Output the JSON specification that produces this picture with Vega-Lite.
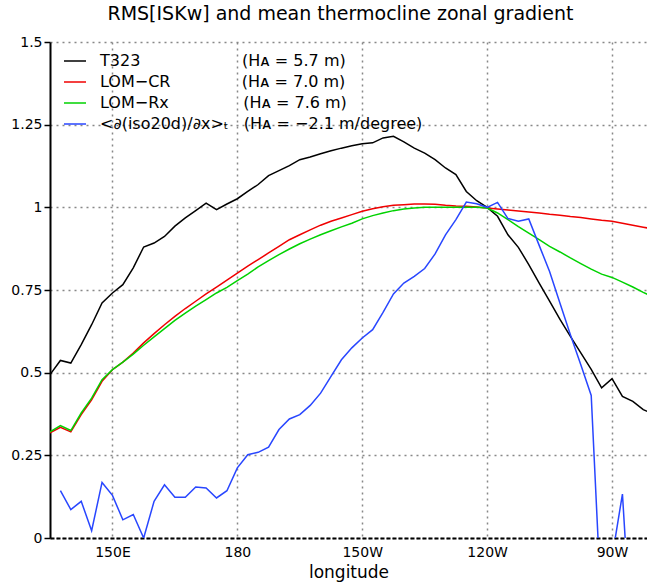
{
 "$schema": "https://vega.github.io/schema/vega-lite/v6.json",
 "autosize": "none",
 "width": 597,
 "height": 496,
 "padding": {"left": 50, "top": 42, "right": 0, "bottom": 44},
 "background": "white",
 "title": {"text": "RMS[ISKw] and mean thermocline zonal gradient", "font": "DejaVu Sans", "fontSize": 19, "fontWeight": "normal", "color": "black", "anchor": "middle", "dx": -8, "offset": -4, "baseline": "alphabetic"},
 "config": {"view": {"stroke": null}},
 "datasets": {
  "curves": [
   {"series": "T323", "lon": 135, "v": 0.494}, {"series": "T323", "lon": 137.5, "v": 0.537}, {"series": "T323", "lon": 140, "v": 0.529}, {"series": "T323", "lon": 142.5, "v": 0.585}, {"series": "T323", "lon": 145, "v": 0.645}, {"series": "T323", "lon": 147.5, "v": 0.711}, {"series": "T323", "lon": 150, "v": 0.741}, {"series": "T323", "lon": 152.5, "v": 0.766}, {"series": "T323", "lon": 155, "v": 0.817}, {"series": "T323", "lon": 157.5, "v": 0.880}, {"series": "T323", "lon": 160, "v": 0.892}, {"series": "T323", "lon": 162.5, "v": 0.912}, {"series": "T323", "lon": 165, "v": 0.943}, {"series": "T323", "lon": 167.5, "v": 0.968}, {"series": "T323", "lon": 170, "v": 0.990}, {"series": "T323", "lon": 172.5, "v": 1.013}, {"series": "T323", "lon": 175, "v": 0.993}, {"series": "T323", "lon": 177.5, "v": 1.010}, {"series": "T323", "lon": 180, "v": 1.026}, {"series": "T323", "lon": 182.5, "v": 1.048}, {"series": "T323", "lon": 185, "v": 1.069}, {"series": "T323", "lon": 187.5, "v": 1.096}, {"series": "T323", "lon": 190, "v": 1.111}, {"series": "T323", "lon": 192.5, "v": 1.126}, {"series": "T323", "lon": 195, "v": 1.144}, {"series": "T323", "lon": 197.5, "v": 1.152}, {"series": "T323", "lon": 200, "v": 1.162}, {"series": "T323", "lon": 202.5, "v": 1.171}, {"series": "T323", "lon": 205, "v": 1.179}, {"series": "T323", "lon": 207.5, "v": 1.186}, {"series": "T323", "lon": 210, "v": 1.192}, {"series": "T323", "lon": 212.5, "v": 1.195}, {"series": "T323", "lon": 215, "v": 1.210}, {"series": "T323", "lon": 217.5, "v": 1.215}, {"series": "T323", "lon": 220, "v": 1.198}, {"series": "T323", "lon": 222.5, "v": 1.179}, {"series": "T323", "lon": 225, "v": 1.164}, {"series": "T323", "lon": 227.5, "v": 1.144}, {"series": "T323", "lon": 230, "v": 1.119}, {"series": "T323", "lon": 232.5, "v": 1.099}, {"series": "T323", "lon": 235, "v": 1.048}, {"series": "T323", "lon": 237.5, "v": 1.020}, {"series": "T323", "lon": 240, "v": 1.000}, {"series": "T323", "lon": 242.5, "v": 0.973}, {"series": "T323", "lon": 245, "v": 0.917}, {"series": "T323", "lon": 247.5, "v": 0.879}, {"series": "T323", "lon": 250, "v": 0.827}, {"series": "T323", "lon": 252.5, "v": 0.771}, {"series": "T323", "lon": 255, "v": 0.716}, {"series": "T323", "lon": 257.5, "v": 0.661}, {"series": "T323", "lon": 260, "v": 0.610}, {"series": "T323", "lon": 262.5, "v": 0.560}, {"series": "T323", "lon": 265, "v": 0.510}, {"series": "T323", "lon": 267.5, "v": 0.454}, {"series": "T323", "lon": 270, "v": 0.482}, {"series": "T323", "lon": 272.5, "v": 0.428}, {"series": "T323", "lon": 275, "v": 0.413}, {"series": "T323", "lon": 277.5, "v": 0.388}, {"series": "T323", "lon": 280, "v": 0.375},
   {"series": "LOM-CR", "lon": 135, "v": 0.318}, {"series": "LOM-CR", "lon": 137.5, "v": 0.335}, {"series": "LOM-CR", "lon": 140, "v": 0.321}, {"series": "LOM-CR", "lon": 142.5, "v": 0.373}, {"series": "LOM-CR", "lon": 145, "v": 0.418}, {"series": "LOM-CR", "lon": 147.5, "v": 0.474}, {"series": "LOM-CR", "lon": 150, "v": 0.509}, {"series": "LOM-CR", "lon": 152.5, "v": 0.532}, {"series": "LOM-CR", "lon": 155, "v": 0.559}, {"series": "LOM-CR", "lon": 157.5, "v": 0.590}, {"series": "LOM-CR", "lon": 160, "v": 0.618}, {"series": "LOM-CR", "lon": 162.5, "v": 0.645}, {"series": "LOM-CR", "lon": 165, "v": 0.670}, {"series": "LOM-CR", "lon": 167.5, "v": 0.694}, {"series": "LOM-CR", "lon": 170, "v": 0.716}, {"series": "LOM-CR", "lon": 172.5, "v": 0.738}, {"series": "LOM-CR", "lon": 175, "v": 0.759}, {"series": "LOM-CR", "lon": 177.5, "v": 0.780}, {"series": "LOM-CR", "lon": 180, "v": 0.801}, {"series": "LOM-CR", "lon": 182.5, "v": 0.822}, {"series": "LOM-CR", "lon": 185, "v": 0.842}, {"series": "LOM-CR", "lon": 187.5, "v": 0.862}, {"series": "LOM-CR", "lon": 190, "v": 0.882}, {"series": "LOM-CR", "lon": 192.5, "v": 0.902}, {"series": "LOM-CR", "lon": 195, "v": 0.917}, {"series": "LOM-CR", "lon": 197.5, "v": 0.932}, {"series": "LOM-CR", "lon": 200, "v": 0.946}, {"series": "LOM-CR", "lon": 202.5, "v": 0.958}, {"series": "LOM-CR", "lon": 205, "v": 0.968}, {"series": "LOM-CR", "lon": 207.5, "v": 0.978}, {"series": "LOM-CR", "lon": 210, "v": 0.988}, {"series": "LOM-CR", "lon": 212.5, "v": 0.996}, {"series": "LOM-CR", "lon": 215, "v": 1.002}, {"series": "LOM-CR", "lon": 217.5, "v": 1.006}, {"series": "LOM-CR", "lon": 220, "v": 1.008}, {"series": "LOM-CR", "lon": 222.5, "v": 1.010}, {"series": "LOM-CR", "lon": 225, "v": 1.010}, {"series": "LOM-CR", "lon": 227.5, "v": 1.009}, {"series": "LOM-CR", "lon": 230, "v": 1.006}, {"series": "LOM-CR", "lon": 232.5, "v": 1.004}, {"series": "LOM-CR", "lon": 235, "v": 1.003}, {"series": "LOM-CR", "lon": 237.5, "v": 1.001}, {"series": "LOM-CR", "lon": 240, "v": 0.998}, {"series": "LOM-CR", "lon": 242.5, "v": 0.995}, {"series": "LOM-CR", "lon": 245, "v": 0.992}, {"series": "LOM-CR", "lon": 247.5, "v": 0.989}, {"series": "LOM-CR", "lon": 250, "v": 0.986}, {"series": "LOM-CR", "lon": 252.5, "v": 0.983}, {"series": "LOM-CR", "lon": 255, "v": 0.979}, {"series": "LOM-CR", "lon": 257.5, "v": 0.976}, {"series": "LOM-CR", "lon": 260, "v": 0.972}, {"series": "LOM-CR", "lon": 262.5, "v": 0.969}, {"series": "LOM-CR", "lon": 265, "v": 0.965}, {"series": "LOM-CR", "lon": 267.5, "v": 0.961}, {"series": "LOM-CR", "lon": 270, "v": 0.958}, {"series": "LOM-CR", "lon": 272.5, "v": 0.952}, {"series": "LOM-CR", "lon": 275, "v": 0.946}, {"series": "LOM-CR", "lon": 277.5, "v": 0.940}, {"series": "LOM-CR", "lon": 280, "v": 0.934},
   {"series": "LOM-Rx", "lon": 135, "v": 0.321}, {"series": "LOM-Rx", "lon": 137.5, "v": 0.340}, {"series": "LOM-Rx", "lon": 140, "v": 0.325}, {"series": "LOM-Rx", "lon": 142.5, "v": 0.378}, {"series": "LOM-Rx", "lon": 145, "v": 0.423}, {"series": "LOM-Rx", "lon": 147.5, "v": 0.479}, {"series": "LOM-Rx", "lon": 150, "v": 0.509}, {"series": "LOM-Rx", "lon": 152.5, "v": 0.532}, {"series": "LOM-Rx", "lon": 155, "v": 0.556}, {"series": "LOM-Rx", "lon": 157.5, "v": 0.583}, {"series": "LOM-Rx", "lon": 160, "v": 0.608}, {"series": "LOM-Rx", "lon": 162.5, "v": 0.633}, {"series": "LOM-Rx", "lon": 165, "v": 0.658}, {"series": "LOM-Rx", "lon": 167.5, "v": 0.680}, {"series": "LOM-Rx", "lon": 170, "v": 0.701}, {"series": "LOM-Rx", "lon": 172.5, "v": 0.721}, {"series": "LOM-Rx", "lon": 175, "v": 0.741}, {"series": "LOM-Rx", "lon": 177.5, "v": 0.758}, {"series": "LOM-Rx", "lon": 180, "v": 0.778}, {"series": "LOM-Rx", "lon": 182.5, "v": 0.798}, {"series": "LOM-Rx", "lon": 185, "v": 0.820}, {"series": "LOM-Rx", "lon": 187.5, "v": 0.839}, {"series": "LOM-Rx", "lon": 190, "v": 0.857}, {"series": "LOM-Rx", "lon": 192.5, "v": 0.874}, {"series": "LOM-Rx", "lon": 195, "v": 0.890}, {"series": "LOM-Rx", "lon": 197.5, "v": 0.904}, {"series": "LOM-Rx", "lon": 200, "v": 0.917}, {"series": "LOM-Rx", "lon": 202.5, "v": 0.929}, {"series": "LOM-Rx", "lon": 205, "v": 0.941}, {"series": "LOM-Rx", "lon": 207.5, "v": 0.952}, {"series": "LOM-Rx", "lon": 210, "v": 0.965}, {"series": "LOM-Rx", "lon": 212.5, "v": 0.975}, {"series": "LOM-Rx", "lon": 215, "v": 0.983}, {"series": "LOM-Rx", "lon": 217.5, "v": 0.990}, {"series": "LOM-Rx", "lon": 220, "v": 0.995}, {"series": "LOM-Rx", "lon": 222.5, "v": 0.998}, {"series": "LOM-Rx", "lon": 225, "v": 1.000}, {"series": "LOM-Rx", "lon": 227.5, "v": 1.000}, {"series": "LOM-Rx", "lon": 230, "v": 1.000}, {"series": "LOM-Rx", "lon": 232.5, "v": 1.000}, {"series": "LOM-Rx", "lon": 235, "v": 1.000}, {"series": "LOM-Rx", "lon": 237.5, "v": 1.000}, {"series": "LOM-Rx", "lon": 240, "v": 0.998}, {"series": "LOM-Rx", "lon": 242.5, "v": 0.983}, {"series": "LOM-Rx", "lon": 245, "v": 0.963}, {"series": "LOM-Rx", "lon": 247.5, "v": 0.942}, {"series": "LOM-Rx", "lon": 250, "v": 0.922}, {"series": "LOM-Rx", "lon": 252.5, "v": 0.902}, {"series": "LOM-Rx", "lon": 255, "v": 0.882}, {"series": "LOM-Rx", "lon": 257.5, "v": 0.865}, {"series": "LOM-Rx", "lon": 260, "v": 0.847}, {"series": "LOM-Rx", "lon": 262.5, "v": 0.830}, {"series": "LOM-Rx", "lon": 265, "v": 0.813}, {"series": "LOM-Rx", "lon": 267.5, "v": 0.798}, {"series": "LOM-Rx", "lon": 270, "v": 0.788}, {"series": "LOM-Rx", "lon": 272.5, "v": 0.774}, {"series": "LOM-Rx", "lon": 275, "v": 0.759}, {"series": "LOM-Rx", "lon": 277.5, "v": 0.743}, {"series": "LOM-Rx", "lon": 280, "v": 0.728},
   {"series": "grad", "lon": 137.5, "v": 0.143}, {"series": "grad", "lon": 140, "v": 0.086}, {"series": "grad", "lon": 142.5, "v": 0.111}, {"series": "grad", "lon": 145, "v": 0.022}, {"series": "grad", "lon": 147.5, "v": 0.168}, {"series": "grad", "lon": 150, "v": 0.129}, {"series": "grad", "lon": 152.5, "v": 0.055}, {"series": "grad", "lon": 155, "v": 0.071}, {"series": "grad", "lon": 157.5, "v": 0.0}, {"series": "grad", "lon": 160, "v": 0.111}, {"series": "grad", "lon": 162.5, "v": 0.161}, {"series": "grad", "lon": 165, "v": 0.123}, {"series": "grad", "lon": 167.5, "v": 0.123}, {"series": "grad", "lon": 170, "v": 0.154}, {"series": "grad", "lon": 172.5, "v": 0.151}, {"series": "grad", "lon": 175, "v": 0.121}, {"series": "grad", "lon": 177.5, "v": 0.143}, {"series": "grad", "lon": 180, "v": 0.212}, {"series": "grad", "lon": 182.5, "v": 0.252}, {"series": "grad", "lon": 185, "v": 0.259}, {"series": "grad", "lon": 187.5, "v": 0.275}, {"series": "grad", "lon": 190, "v": 0.328}, {"series": "grad", "lon": 192.5, "v": 0.360}, {"series": "grad", "lon": 195, "v": 0.373}, {"series": "grad", "lon": 197.5, "v": 0.401}, {"series": "grad", "lon": 200, "v": 0.438}, {"series": "grad", "lon": 202.5, "v": 0.489}, {"series": "grad", "lon": 205, "v": 0.539}, {"series": "grad", "lon": 207.5, "v": 0.575}, {"series": "grad", "lon": 210, "v": 0.605}, {"series": "grad", "lon": 212.5, "v": 0.630}, {"series": "grad", "lon": 215, "v": 0.682}, {"series": "grad", "lon": 217.5, "v": 0.738}, {"series": "grad", "lon": 220, "v": 0.771}, {"series": "grad", "lon": 222.5, "v": 0.791}, {"series": "grad", "lon": 225, "v": 0.815}, {"series": "grad", "lon": 227.5, "v": 0.859}, {"series": "grad", "lon": 230, "v": 0.917}, {"series": "grad", "lon": 232.5, "v": 0.963}, {"series": "grad", "lon": 235, "v": 1.016}, {"series": "grad", "lon": 237.5, "v": 1.011}, {"series": "grad", "lon": 240, "v": 1.000}, {"series": "grad", "lon": 242.5, "v": 1.015}, {"series": "grad", "lon": 245, "v": 0.966}, {"series": "grad", "lon": 247.5, "v": 0.958}, {"series": "grad", "lon": 250, "v": 0.965}, {"series": "grad", "lon": 252.5, "v": 0.885}, {"series": "grad", "lon": 255, "v": 0.806}, {"series": "grad", "lon": 257.5, "v": 0.710}, {"series": "grad", "lon": 260, "v": 0.615}, {"series": "grad", "lon": 262.5, "v": 0.524}, {"series": "grad", "lon": 265, "v": 0.431}, {"series": "grad", "lon": 267.5, "v": -0.23}, {"series": "grad", "lon": 270, "v": -0.06}, {"series": "grad", "lon": 272.5, "v": 0.133}, {"series": "grad", "lon": 275, "v": -0.38}, {"series": "grad", "lon": 277.5, "v": -0.6}, {"series": "grad", "lon": 280, "v": -0.6}
  ]
 },
 "layer": [
  {
   "data": {"name": "curves"},
   "mark": {"type": "line", "clip": true, "strokeWidth": 1.5},
   "encoding": {
    "x": {"field": "lon", "type": "quantitative", "scale": {"domain": [135, 278.4], "nice": false, "zero": false},
     "axis": {"values": [150, 180, 210, 240, 270], "labelExpr": "datum.value < 180 ? datum.value + 'E' : (datum.value == 180 ? '180' : (360 - datum.value) + 'W')", "title": "longitude", "titleFont": "DejaVu Sans", "titleFontSize": 17, "titleFontWeight": "normal", "titleColor": "black", "titlePadding": 5, "labelFont": "DejaVu Sans", "labelFontSize": 14, "labelColor": "black", "labelPadding": 7, "ticks": false, "domainColor": "black", "domainWidth": 2, "domainDash": [4, 2], "grid": true, "gridColor": "#888888", "gridDash": [2, 4], "gridWidth": 1.5}},
    "y": {"field": "v", "type": "quantitative", "scale": {"domain": [0, 1.5], "nice": false},
     "axis": {"values": [0, 0.25, 0.5, 0.75, 1, 1.25, 1.5], "labelExpr": "'' + datum.value", "title": null, "labelFont": "DejaVu Sans", "labelFontSize": 14, "labelColor": "black", "labelPadding": 2, "tickSize": 6, "tickColor": "black", "tickWidth": 1.5, "domainColor": "black", "domainWidth": 2, "grid": true, "gridColor": "#888888", "gridDash": [2, 4], "gridWidth": 1.5}},
    "color": {"field": "series", "type": "nominal",
     "scale": {"domain": ["T323", "LOM-CR", "LOM-Rx", "grad"], "range": ["#000000", "#f00000", "#00d200", "#2846ff"]},
     "legend": {"orient": "none", "legendX": 13, "legendY": 7, "title": null, "padding": 0, "symbolType": "stroke", "symbolSize": 484, "symbolStrokeWidth": 1.5, "labelFont": "DejaVu Sans", "labelFontSize": 16, "labelColor": "black", "labelOffset": 13, "labelLimit": 600, "rowPadding": 1,
      "labelExpr": "datum.label == 'T323' ? 'T323\u00a0\u00a0\u00a0\u00a0\u00a0\u00a0\u00a0\u00a0\u00a0\u00a0\u00a0\u00a0\u00a0\u00a0\u00a0\u00a0\u00a0\u00a0\u00a0\u00a0(H\u1d00\u00a0=\u00a05.7\u00a0m)' : datum.label == 'LOM-CR' ? 'LOM\u2212CR\u00a0\u00a0\u00a0\u00a0\u00a0\u00a0\u00a0\u00a0\u00a0\u00a0\u00a0\u00a0\u00a0\u00a0(H\u1d00\u00a0=\u00a07.0\u00a0m)' : datum.label == 'LOM-Rx' ? 'LOM\u2212Rx\u00a0\u00a0\u00a0\u00a0\u00a0\u00a0\u00a0\u00a0\u00a0\u00a0\u00a0\u00a0\u00a0\u00a0\u2009(H\u1d00\u00a0=\u00a07.6\u00a0m)' : '<\u2202(iso20d)/\u2202x>\u209c\u00a0\u00a0\u00a0(H\u1d00\u00a0=\u00a0\u22122.1\u00a0m/degree)'"}}
   }
  },
  {
   "mark": {"type": "rule", "color": "black", "strokeWidth": 2, "strokeDash": [4, 2]},
   "encoding": {"y": {"datum": 1.5}}
  }
 ]
}
